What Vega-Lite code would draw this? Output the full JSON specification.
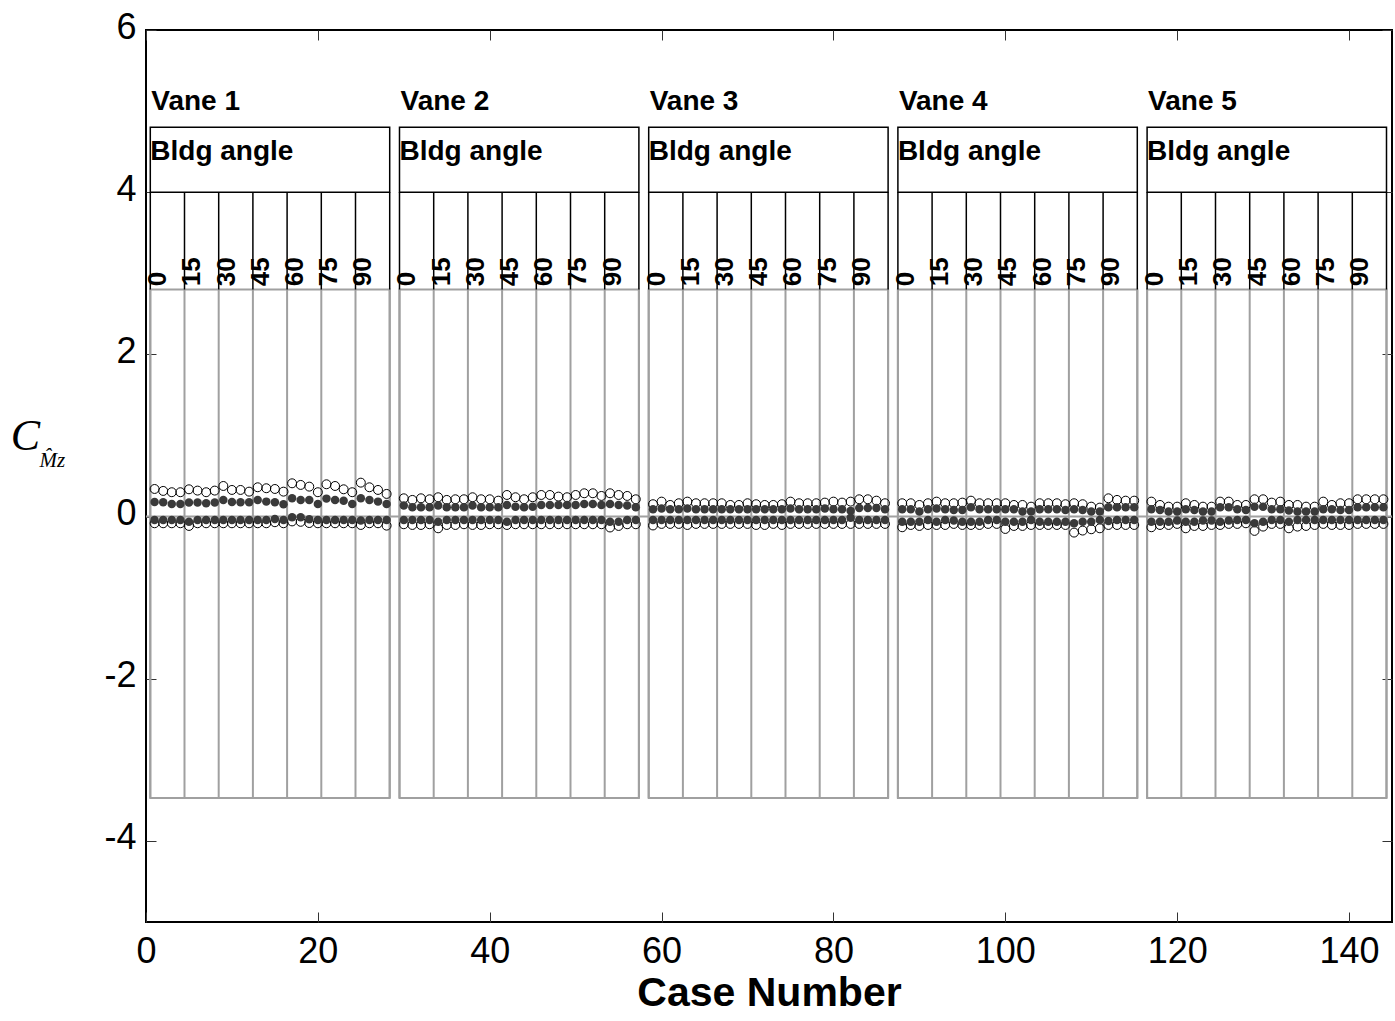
{
 "$schema": "https://vega.github.io/schema/vega-lite/v6.json",
 "width": 1246, "height": 892,
 "autosize": {"type": "none"},
 "padding": {"left": 146, "top": 30, "right": 3, "bottom": 99},
 "background": "white",
 "config": {"view": {"stroke": "black", "strokeWidth": 2}, "axis": {"grid": false}, "font": "Liberation Sans"},
 "resolve": {"axis": {"x": "independent", "y": "independent"}},
 "datasets": {
  "boxes": [
   {"x1": 0.5, "x2": 28.36, "vane": "Vane 1"},
   {"x1": 29.5, "x2": 57.36, "vane": "Vane 2"},
   {"x1": 58.5, "x2": 86.36, "vane": "Vane 3"},
   {"x1": 87.5, "x2": 115.36, "vane": "Vane 4"},
   {"x1": 116.5, "x2": 144.36, "vane": "Vane 5"}
  ],
  "seps": [
   {"x": 0.5, "ang": "0"}, {"x": 4.48, "ang": "15"}, {"x": 8.46, "ang": "30"}, {"x": 12.44, "ang": "45"}, {"x": 16.42, "ang": "60"}, {"x": 20.4, "ang": "75"}, {"x": 24.38, "ang": "90"}, {"x": 28.36, "ang": ""},
   {"x": 29.5, "ang": "0"}, {"x": 33.48, "ang": "15"}, {"x": 37.46, "ang": "30"}, {"x": 41.44, "ang": "45"}, {"x": 45.42, "ang": "60"}, {"x": 49.4, "ang": "75"}, {"x": 53.38, "ang": "90"}, {"x": 57.36, "ang": ""},
   {"x": 58.5, "ang": "0"}, {"x": 62.48, "ang": "15"}, {"x": 66.46, "ang": "30"}, {"x": 70.44, "ang": "45"}, {"x": 74.42, "ang": "60"}, {"x": 78.4, "ang": "75"}, {"x": 82.38, "ang": "90"}, {"x": 86.36, "ang": ""},
   {"x": 87.5, "ang": "0"}, {"x": 91.48, "ang": "15"}, {"x": 95.46, "ang": "30"}, {"x": 99.44, "ang": "45"}, {"x": 103.42, "ang": "60"}, {"x": 107.4, "ang": "75"}, {"x": 111.38, "ang": "90"}, {"x": 115.36, "ang": ""},
   {"x": 116.5, "ang": "0"}, {"x": 120.48, "ang": "15"}, {"x": 124.46, "ang": "30"}, {"x": 128.44, "ang": "45"}, {"x": 132.42, "ang": "60"}, {"x": 136.4, "ang": "75"}, {"x": 140.38, "ang": "90"}, {"x": 144.36, "ang": ""}
  ],
  "pts": [
   {"c":1,"hi":0.34,"up":0.18,"lo":-0.042,"mn":-0.083},
   {"c":2,"hi":0.316,"up":0.176,"lo":-0.042,"mn":-0.083},
   {"c":3,"hi":0.30,"up":0.155,"lo":-0.042,"mn":-0.083},
   {"c":4,"hi":0.30,"up":0.155,"lo":-0.042,"mn":-0.083},
   {"c":5,"hi":0.336,"up":0.172,"lo":-0.063,"mn":-0.116},
   {"c":6,"hi":0.32,"up":0.172,"lo":-0.042,"mn":-0.083},
   {"c":7,"hi":0.30,"up":0.164,"lo":-0.042,"mn":-0.083},
   {"c":8,"hi":0.32,"up":0.172,"lo":-0.042,"mn":-0.083},
   {"c":9,"hi":0.377,"up":0.205,"lo":-0.042,"mn":-0.083},
   {"c":10,"hi":0.328,"up":0.18,"lo":-0.042,"mn":-0.083},
   {"c":11,"hi":0.328,"up":0.176,"lo":-0.042,"mn":-0.083},
   {"c":12,"hi":0.307,"up":0.176,"lo":-0.042,"mn":-0.083},
   {"c":13,"hi":0.361,"up":0.205,"lo":-0.042,"mn":-0.083},
   {"c":14,"hi":0.349,"up":0.184,"lo":-0.042,"mn":-0.083},
   {"c":15,"hi":0.34,"up":0.176,"lo":-0.03,"mn":-0.07},
   {"c":16,"hi":0.307,"up":0.152,"lo":-0.042,"mn":-0.083},
   {"c":17,"hi":0.41,"up":0.225,"lo":-0.009,"mn":-0.06},
   {"c":18,"hi":0.39,"up":0.205,"lo":-0.009,"mn":-0.065},
   {"c":19,"hi":0.369,"up":0.205,"lo":-0.033,"mn":-0.08},
   {"c":20,"hi":0.30,"up":0.155,"lo":-0.042,"mn":-0.083},
   {"c":21,"hi":0.398,"up":0.221,"lo":-0.042,"mn":-0.083},
   {"c":22,"hi":0.377,"up":0.205,"lo":-0.042,"mn":-0.083},
   {"c":23,"hi":0.336,"up":0.196,"lo":-0.042,"mn":-0.083},
   {"c":24,"hi":0.30,"up":0.155,"lo":-0.042,"mn":-0.083},
   {"c":25,"hi":0.418,"up":0.225,"lo":-0.05,"mn":-0.104},
   {"c":26,"hi":0.361,"up":0.205,"lo":-0.042,"mn":-0.083},
   {"c":27,"hi":0.328,"up":0.184,"lo":-0.042,"mn":-0.083},
   {"c":28,"hi":0.279,"up":0.155,"lo":-0.042,"mn":-0.112},
   {"c":30,"hi":0.225,"up":0.135,"lo":-0.042,"mn":-0.095},
   {"c":31,"hi":0.205,"up":0.114,"lo":-0.042,"mn":-0.104},
   {"c":32,"hi":0.225,"up":0.114,"lo":-0.042,"mn":-0.104},
   {"c":33,"hi":0.213,"up":0.114,"lo":-0.042,"mn":-0.095},
   {"c":34,"hi":0.238,"up":0.135,"lo":-0.063,"mn":-0.145},
   {"c":35,"hi":0.205,"up":0.114,"lo":-0.042,"mn":-0.104},
   {"c":36,"hi":0.213,"up":0.114,"lo":-0.042,"mn":-0.104},
   {"c":37,"hi":0.213,"up":0.114,"lo":-0.042,"mn":-0.095},
   {"c":38,"hi":0.238,"up":0.135,"lo":-0.042,"mn":-0.104},
   {"c":39,"hi":0.213,"up":0.114,"lo":-0.042,"mn":-0.104},
   {"c":40,"hi":0.213,"up":0.114,"lo":-0.042,"mn":-0.095},
   {"c":41,"hi":0.196,"up":0.114,"lo":-0.042,"mn":-0.095},
   {"c":42,"hi":0.266,"up":0.143,"lo":-0.063,"mn":-0.104},
   {"c":43,"hi":0.238,"up":0.122,"lo":-0.042,"mn":-0.095},
   {"c":44,"hi":0.213,"up":0.114,"lo":-0.042,"mn":-0.095},
   {"c":45,"hi":0.238,"up":0.122,"lo":-0.042,"mn":-0.095},
   {"c":46,"hi":0.266,"up":0.143,"lo":-0.042,"mn":-0.095},
   {"c":47,"hi":0.266,"up":0.143,"lo":-0.042,"mn":-0.095},
   {"c":48,"hi":0.246,"up":0.143,"lo":-0.042,"mn":-0.095},
   {"c":49,"hi":0.238,"up":0.143,"lo":-0.042,"mn":-0.095},
   {"c":50,"hi":0.266,"up":0.143,"lo":-0.042,"mn":-0.095},
   {"c":51,"hi":0.287,"up":0.155,"lo":-0.042,"mn":-0.095},
   {"c":52,"hi":0.287,"up":0.155,"lo":-0.042,"mn":-0.095},
   {"c":53,"hi":0.254,"up":0.143,"lo":-0.042,"mn":-0.095},
   {"c":54,"hi":0.287,"up":0.155,"lo":-0.063,"mn":-0.135},
   {"c":55,"hi":0.266,"up":0.143,"lo":-0.063,"mn":-0.116},
   {"c":56,"hi":0.254,"up":0.135,"lo":-0.042,"mn":-0.095},
   {"c":57,"hi":0.213,"up":0.114,"lo":-0.042,"mn":-0.095},
   {"c":59,"hi":0.152,"up":0.09,"lo":-0.042,"mn":-0.11},
   {"c":60,"hi":0.184,"up":0.098,"lo":-0.042,"mn":-0.091},
   {"c":61,"hi":0.143,"up":0.09,"lo":-0.042,"mn":-0.091},
   {"c":62,"hi":0.164,"up":0.09,"lo":-0.042,"mn":-0.091},
   {"c":63,"hi":0.184,"up":0.098,"lo":-0.042,"mn":-0.104},
   {"c":64,"hi":0.164,"up":0.09,"lo":-0.042,"mn":-0.091},
   {"c":65,"hi":0.164,"up":0.09,"lo":-0.042,"mn":-0.091},
   {"c":66,"hi":0.164,"up":0.09,"lo":-0.042,"mn":-0.091},
   {"c":67,"hi":0.164,"up":0.09,"lo":-0.042,"mn":-0.091},
   {"c":68,"hi":0.143,"up":0.09,"lo":-0.042,"mn":-0.091},
   {"c":69,"hi":0.143,"up":0.09,"lo":-0.042,"mn":-0.091},
   {"c":70,"hi":0.164,"up":0.09,"lo":-0.042,"mn":-0.091},
   {"c":71,"hi":0.152,"up":0.09,"lo":-0.042,"mn":-0.104},
   {"c":72,"hi":0.143,"up":0.09,"lo":-0.042,"mn":-0.104},
   {"c":73,"hi":0.143,"up":0.09,"lo":-0.042,"mn":-0.091},
   {"c":74,"hi":0.152,"up":0.09,"lo":-0.042,"mn":-0.104},
   {"c":75,"hi":0.184,"up":0.098,"lo":-0.042,"mn":-0.091},
   {"c":76,"hi":0.164,"up":0.09,"lo":-0.042,"mn":-0.091},
   {"c":77,"hi":0.164,"up":0.09,"lo":-0.042,"mn":-0.091},
   {"c":78,"hi":0.164,"up":0.09,"lo":-0.042,"mn":-0.091},
   {"c":79,"hi":0.172,"up":0.098,"lo":-0.042,"mn":-0.091},
   {"c":80,"hi":0.184,"up":0.09,"lo":-0.042,"mn":-0.091},
   {"c":81,"hi":0.172,"up":0.09,"lo":-0.042,"mn":-0.091},
   {"c":82,"hi":0.184,"up":0.07,"lo":-0.015,"mn":-0.091},
   {"c":83,"hi":0.213,"up":0.106,"lo":-0.042,"mn":-0.091},
   {"c":84,"hi":0.213,"up":0.106,"lo":-0.042,"mn":-0.091},
   {"c":85,"hi":0.196,"up":0.106,"lo":-0.042,"mn":-0.091},
   {"c":86,"hi":0.164,"up":0.09,"lo":-0.042,"mn":-0.091},
   {"c":88,"hi":0.164,"up":0.09,"lo":-0.063,"mn":-0.132},
   {"c":89,"hi":0.164,"up":0.09,"lo":-0.063,"mn":-0.104},
   {"c":90,"hi":0.143,"up":0.061,"lo":-0.063,"mn":-0.116},
   {"c":91,"hi":0.164,"up":0.09,"lo":-0.042,"mn":-0.104},
   {"c":92,"hi":0.184,"up":0.098,"lo":-0.063,"mn":-0.104},
   {"c":93,"hi":0.164,"up":0.09,"lo":-0.042,"mn":-0.104},
   {"c":94,"hi":0.164,"up":0.082,"lo":-0.05,"mn":-0.091},
   {"c":95,"hi":0.172,"up":0.082,"lo":-0.063,"mn":-0.104},
   {"c":96,"hi":0.196,"up":0.114,"lo":-0.063,"mn":-0.104},
   {"c":97,"hi":0.164,"up":0.09,"lo":-0.063,"mn":-0.104},
   {"c":98,"hi":0.164,"up":0.09,"lo":-0.042,"mn":-0.091},
   {"c":99,"hi":0.164,"up":0.09,"lo":-0.042,"mn":-0.091},
   {"c":100,"hi":0.164,"up":0.09,"lo":-0.063,"mn":-0.153},
   {"c":101,"hi":0.143,"up":0.09,"lo":-0.063,"mn":-0.116},
   {"c":102,"hi":0.143,"up":0.061,"lo":-0.063,"mn":-0.116},
   {"c":103,"hi":0.122,"up":0.061,"lo":-0.042,"mn":-0.104},
   {"c":104,"hi":0.164,"up":0.09,"lo":-0.063,"mn":-0.104},
   {"c":105,"hi":0.164,"up":0.09,"lo":-0.063,"mn":-0.104},
   {"c":106,"hi":0.164,"up":0.09,"lo":-0.063,"mn":-0.104},
   {"c":107,"hi":0.152,"up":0.082,"lo":-0.063,"mn":-0.104},
   {"c":108,"hi":0.164,"up":0.09,"lo":-0.083,"mn":-0.198},
   {"c":109,"hi":0.152,"up":0.082,"lo":-0.063,"mn":-0.173},
   {"c":110,"hi":0.122,"up":0.061,"lo":-0.063,"mn":-0.157},
   {"c":111,"hi":0.11,"up":0.061,"lo":-0.042,"mn":-0.145},
   {"c":112,"hi":0.225,"up":0.114,"lo":-0.055,"mn":-0.104},
   {"c":113,"hi":0.205,"up":0.114,"lo":-0.042,"mn":-0.104},
   {"c":114,"hi":0.196,"up":0.114,"lo":-0.042,"mn":-0.104},
   {"c":115,"hi":0.196,"up":0.114,"lo":-0.042,"mn":-0.104},
   {"c":117,"hi":0.184,"up":0.09,"lo":-0.063,"mn":-0.132},
   {"c":118,"hi":0.143,"up":0.082,"lo":-0.063,"mn":-0.104},
   {"c":119,"hi":0.122,"up":0.061,"lo":-0.063,"mn":-0.104},
   {"c":120,"hi":0.122,"up":0.061,"lo":-0.05,"mn":-0.091},
   {"c":121,"hi":0.164,"up":0.09,"lo":-0.063,"mn":-0.145},
   {"c":122,"hi":0.143,"up":0.082,"lo":-0.063,"mn":-0.116},
   {"c":123,"hi":0.122,"up":0.061,"lo":-0.05,"mn":-0.116},
   {"c":124,"hi":0.122,"up":0.061,"lo":-0.05,"mn":-0.104},
   {"c":125,"hi":0.184,"up":0.114,"lo":-0.063,"mn":-0.104},
   {"c":126,"hi":0.184,"up":0.114,"lo":-0.05,"mn":-0.091},
   {"c":127,"hi":0.143,"up":0.09,"lo":-0.042,"mn":-0.091},
   {"c":128,"hi":0.143,"up":0.082,"lo":-0.042,"mn":-0.083},
   {"c":129,"hi":0.213,"up":0.122,"lo":-0.083,"mn":-0.177},
   {"c":130,"hi":0.213,"up":0.122,"lo":-0.063,"mn":-0.124},
   {"c":131,"hi":0.172,"up":0.09,"lo":-0.042,"mn":-0.091},
   {"c":132,"hi":0.184,"up":0.09,"lo":-0.042,"mn":-0.091},
   {"c":133,"hi":0.143,"up":0.074,"lo":-0.063,"mn":-0.145},
   {"c":134,"hi":0.143,"up":0.061,"lo":-0.042,"mn":-0.124},
   {"c":135,"hi":0.122,"up":0.061,"lo":-0.042,"mn":-0.116},
   {"c":136,"hi":0.122,"up":0.061,"lo":-0.042,"mn":-0.104},
   {"c":137,"hi":0.184,"up":0.09,"lo":-0.042,"mn":-0.091},
   {"c":138,"hi":0.143,"up":0.09,"lo":-0.042,"mn":-0.104},
   {"c":139,"hi":0.164,"up":0.082,"lo":-0.042,"mn":-0.104},
   {"c":140,"hi":0.164,"up":0.082,"lo":-0.042,"mn":-0.104},
   {"c":141,"hi":0.213,"up":0.114,"lo":-0.042,"mn":-0.091},
   {"c":142,"hi":0.213,"up":0.114,"lo":-0.042,"mn":-0.091},
   {"c":143,"hi":0.213,"up":0.114,"lo":-0.042,"mn":-0.091},
   {"c":144,"hi":0.213,"up":0.114,"lo":-0.042,"mn":-0.091}
  ]
 },
 "layer": [
  {
   "data": {"name": "boxes"},
   "mark": {"type": "rect", "fill": "white", "fillOpacity": 0, "stroke": "#a0a0a0", "strokeWidth": 2},
   "encoding": {
    "x": {"field": "x1", "type": "quantitative", "scale": {"domain": [0, 145], "nice": false, "zero": false}, "axis": null},
    "x2": {"field": "x2"},
    "y": {"datum": -3.47, "type": "quantitative", "scale": {"domain": [-5, 6], "nice": false, "zero": false}, "axis": null},
    "y2": {"datum": 2.8}
   }
  },
  {
   "data": {"name": "seps"},
   "mark": {"type": "rule", "color": "#a0a0a0", "strokeWidth": 2},
   "encoding": {
    "x": {"field": "x", "type": "quantitative", "scale": {"domain": [0, 145], "nice": false, "zero": false}, "axis": null},
    "y": {"datum": -3.47, "type": "quantitative", "scale": {"domain": [-5, 6], "nice": false, "zero": false}, "axis": null},
    "y2": {"datum": 2.8}
   }
  },
  {
   "data": {"values": [{}]},
   "mark": {"type": "rule", "color": "#a0a0a0", "strokeWidth": 2},
   "encoding": {
    "y": {"datum": 0, "type": "quantitative", "scale": {"domain": [-5, 6], "nice": false, "zero": false}, "axis": null}
   }
  },
  {
   "data": {"name": "seps"},
   "mark": {"type": "rule", "color": "black", "strokeWidth": 1.5},
   "encoding": {
    "x": {"field": "x", "type": "quantitative", "scale": {"domain": [0, 145], "nice": false, "zero": false}, "axis": null},
    "y": {"datum": 2.8, "type": "quantitative", "scale": {"domain": [-5, 6], "nice": false, "zero": false}, "axis": null},
    "y2": {"datum": 4}
   }
  },
  {
   "data": {"name": "boxes"},
   "mark": {"type": "rect", "fill": "white", "fillOpacity": 0, "stroke": "black", "strokeWidth": 1.5},
   "encoding": {
    "x": {"field": "x1", "type": "quantitative", "scale": {"domain": [0, 145], "nice": false, "zero": false}, "axis": null},
    "x2": {"field": "x2"},
    "y": {"datum": 4, "type": "quantitative", "scale": {"domain": [-5, 6], "nice": false, "zero": false}, "axis": null},
    "y2": {"datum": 4.8}
   }
  },
  {
   "data": {"name": "pts"},
   "mark": {"type": "point", "shape": "circle", "filled": false, "stroke": "black", "strokeWidth": 1, "opacity": 1, "size": 80},
   "encoding": {
    "x": {"field": "c", "type": "quantitative", "scale": {"domain": [0, 145], "nice": false, "zero": false},
     "axis": {"orient": "bottom", "values": [0, 20, 40, 60, 80, 100, 120, 140], "domain": false, "tickSize": -10, "tickColor": "#333", "tickWidth": 1,
      "labelFontSize": 36, "labelColor": "black", "labelPadding": 22, "labelFlush": false, "labelExpr": "'' + datum.value",
      "title": "Case Number", "titleFontSize": 41, "titleFontWeight": "bold", "titleColor": "black", "titleY": 71, "titleBaseline": "middle"}},
    "y": {"field": "hi", "type": "quantitative", "scale": {"domain": [-5, 6], "nice": false, "zero": false},
     "axis": {"orient": "left", "values": [-4, -2, 0, 2, 4, 6], "domain": false, "tickSize": -10, "tickColor": "#333", "tickWidth": 1,
      "labelFontSize": 36, "labelColor": "black", "labelPadding": 20, "labelOffset": -3, "labelFlush": false, "labelExpr": "'' + datum.value",
      "title": "C", "titleAngle": 0, "titleFont": "Liberation Serif", "titleFontStyle": "italic", "titleFontWeight": "normal", "titleFontSize": 44, "titleColor": "black",
      "titleX": -121, "titleY": 406, "titleAlign": "center", "titleBaseline": "middle"}}
   }
  },
  {
   "data": {"name": "pts"},
   "mark": {"type": "point", "shape": "circle", "filled": false, "stroke": "black", "strokeWidth": 1, "opacity": 1, "size": 80},
   "encoding": {
    "x": {"field": "c", "type": "quantitative", "scale": {"domain": [0, 145], "nice": false, "zero": false},
     "axis": {"orient": "top", "values": [0, 20, 40, 60, 80, 100, 120, 140], "domain": false, "labels": false, "tickSize": -10, "tickColor": "#333", "tickWidth": 1, "title": null}},
    "y": {"field": "mn", "type": "quantitative", "scale": {"domain": [-5, 6], "nice": false, "zero": false},
     "axis": {"orient": "right", "values": [-4, -2, 0, 2, 4, 6], "domain": false, "labels": false, "tickSize": -10, "tickColor": "#333", "tickWidth": 1, "title": null}}
   }
  },
  {
   "data": {"name": "pts"},
   "mark": {"type": "point", "shape": "circle", "filled": true, "color": "#3a3a3a", "opacity": 1, "size": 72},
   "encoding": {
    "x": {"field": "c", "type": "quantitative", "scale": {"domain": [0, 145], "nice": false, "zero": false}, "axis": null},
    "y": {"field": "up", "type": "quantitative", "scale": {"domain": [-5, 6], "nice": false, "zero": false},
     "axis": {"orient": "left", "domain": false, "ticks": false, "labels": false,
      "title": "M̂z", "titleAngle": 0, "titleFont": "Liberation Serif", "titleFontStyle": "italic", "titleFontWeight": "normal", "titleFontSize": 21, "titleColor": "black",
      "titleX": -107, "titleY": 430, "titleAlign": "left", "titleBaseline": "middle"}}
   }
  },
  {
   "data": {"name": "pts"},
   "mark": {"type": "point", "shape": "circle", "filled": true, "color": "#3a3a3a", "opacity": 1, "size": 72},
   "encoding": {
    "x": {"field": "c", "type": "quantitative", "scale": {"domain": [0, 145], "nice": false, "zero": false}, "axis": null},
    "y": {"field": "lo", "type": "quantitative", "scale": {"domain": [-5, 6], "nice": false, "zero": false}, "axis": null}
   }
  },
  {
   "data": {"name": "boxes"},
   "mark": {"type": "text", "align": "left", "baseline": "middle", "fontSize": 28, "fontWeight": "bold", "color": "black", "dx": 1, "dy": 2},
   "encoding": {
    "x": {"field": "x1", "type": "quantitative", "scale": {"domain": [0, 145], "nice": false, "zero": false}, "axis": null},
    "y": {"datum": 5.14, "type": "quantitative", "scale": {"domain": [-5, 6], "nice": false, "zero": false}, "axis": null},
    "text": {"field": "vane"}
   }
  },
  {
   "data": {"name": "boxes"},
   "mark": {"type": "text", "align": "left", "baseline": "middle", "fontSize": 28, "fontWeight": "bold", "color": "black", "dx": 0, "dy": 2},
   "encoding": {
    "x": {"field": "x1", "type": "quantitative", "scale": {"domain": [0, 145], "nice": false, "zero": false}, "axis": null},
    "y": {"datum": 4.52, "type": "quantitative", "scale": {"domain": [-5, 6], "nice": false, "zero": false}, "axis": null},
    "text": {"value": "Bldg angle"}
   }
  },
  {
   "data": {"name": "seps"},
   "mark": {"type": "text", "align": "left", "baseline": "top", "angle": 270, "fontSize": 26, "fontWeight": "bold", "color": "black", "dy": -5},
   "encoding": {
    "x": {"field": "x", "type": "quantitative", "scale": {"domain": [0, 145], "nice": false, "zero": false}, "axis": null},
    "y": {"datum": 2.84, "type": "quantitative", "scale": {"domain": [-5, 6], "nice": false, "zero": false}, "axis": null},
    "text": {"field": "ang"}
   }
  }
 ]
}
